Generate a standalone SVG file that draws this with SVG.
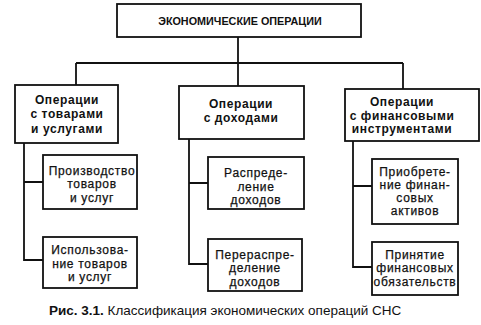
<svg xmlns="http://www.w3.org/2000/svg" width="481" height="325" viewBox="0 0 481 325">
<style>
.box{fill:#fff;stroke:#111;stroke-width:1.8}
.ln{fill:none;stroke:#111;stroke-width:1.8}
text{font-family:"Liberation Sans",Arial,sans-serif;fill:#111;text-anchor:middle}
.h{font-weight:bold;font-size:12px;letter-spacing:0.6px}
.s{font-size:12px;letter-spacing:0.7px;stroke:#111;stroke-width:0.25}
.cap{font-size:13.5px;text-anchor:start}
</style>
<rect width="481" height="325" fill="#fff"/>
<g id="connectors">
<path class="ln" d="M238 37V63M76 63H403M76 63V86M238 63V87M403 63V89"/>
<path class="ln" d="M24 143V260H43M24 182H43"/>
<path class="ln" d="M189 139V264H208M189 183H208"/>
<path class="ln" d="M353 141V267H372M353 186H372"/>
</g>
<g id="root">
<rect class="box" x="117" y="4" width="244" height="33"/>
<text class="h" x="240" y="25" style="font-size:10.8px;letter-spacing:0">ЭКОНОМИЧЕСКИЕ ОПЕРАЦИИ</text>
</g>
<g id="goods">
<rect class="box" x="15" y="85" width="103" height="58"/>
<text class="h" x="67" y="104">Операции</text>
<text class="h" x="67" y="118">с товарами</text>
<text class="h" x="67" y="133">и услугами</text>
</g>
<g id="income">
<rect class="box" x="179" y="86" width="125" height="53"/>
<text class="h" x="241" y="108">Операции</text>
<text class="h" x="241" y="122">с доходами</text>
</g>
<g id="finance">
<rect class="box" x="345" y="89" width="134" height="52"/>
<text class="h" x="402" y="106">Операции</text>
<text class="h" x="402" y="119.5">с финансовыми</text>
<text class="h" x="402" y="133">инструментами</text>
</g>
<g id="production">
<rect class="box" x="43" y="155" width="94" height="54"/>
<text class="s" x="92" y="174.5">Производство</text>
<text class="s" x="92" y="188">товаров</text>
<text class="s" x="92" y="201.5">и услуг</text>
</g>
<g id="use">
<rect class="box" x="43" y="237" width="94" height="51"/>
<text class="s" x="90" y="254">Использова-</text>
<text class="s" x="90" y="267.5">ние товаров</text>
<text class="s" x="90" y="281">и услуг</text>
</g>
<g id="distribution">
<rect class="box" x="208" y="157" width="96" height="52"/>
<text class="s" x="256" y="177">Распреде-</text>
<text class="s" x="256" y="190.5">ление</text>
<text class="s" x="256" y="204">доходов</text>
</g>
<g id="redistribution">
<rect class="box" x="208" y="239" width="94" height="52"/>
<text class="s" x="255" y="258.5">Перераспре-</text>
<text class="s" x="255" y="272">деление</text>
<text class="s" x="255" y="285.5">доходов</text>
</g>
<g id="acquisition">
<rect class="box" x="372" y="159" width="86" height="65"/>
<text class="s" x="415" y="176">Приобрете-</text>
<text class="s" x="415" y="189">ние финан-</text>
<text class="s" x="415" y="202">совых</text>
<text class="s" x="415" y="215">активов</text>
</g>
<g id="liabilities">
<rect class="box" x="372" y="242" width="86" height="53"/>
<text class="s" x="415" y="258.5">Принятие</text>
<text class="s" x="415" y="272">финансовых</text>
<text class="s" x="415" y="285.5">обязательств</text>
</g>
<text class="cap" x="49" y="315"><tspan font-weight="bold">Рис. 3.1.</tspan> Классификация экономических операций СНС</text>
</svg>
